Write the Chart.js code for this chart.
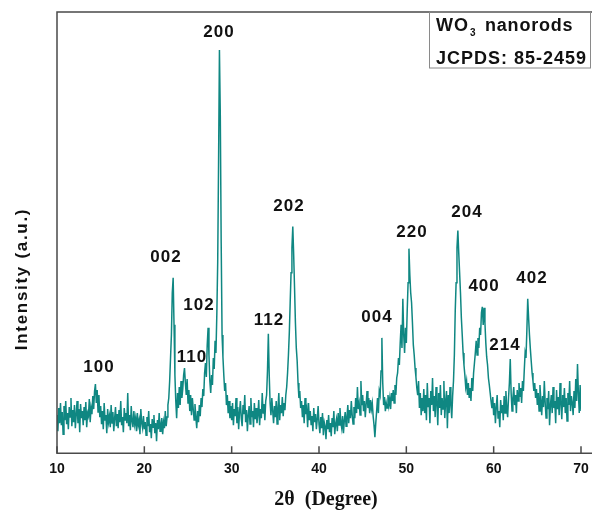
<!DOCTYPE html>
<html>
<head>
<meta charset="utf-8">
<script src="https://cdn.jsdelivr.net/npm/chart.js@4.4.1/dist/chart.umd.min.js"></script>
<style>
  html, body { margin: 0; padding: 0; background: #fff; }
  #wrap { width: 592px; height: 512px; position: relative; }
</style>
</head>
<body>
<div id="wrap"><canvas id="xrd-chart"></canvas></div>
<script>
// scan grid: 2theta from 10 to 70 deg, 0.1 deg step
const startAngle = 10;
const stepAngle = 0.1;

// intensity (a.u.), one row per degree
const intensity = [
  38, 22, 45, 30, 50, 28, 41, 19, 47, 33,          // 10
  52, 29, 40, 24, 46, 36, 55, 27, 43, 31,          // 11
  48, 25, 39, 52, 30, 44, 21, 49, 35, 42,          // 12
  28, 46, 33, 51, 26, 40, 37, 54, 31, 45,          // 13
  39, 57, 44, 62, 69, 50, 63, 41, 58, 36,          // 14
  47, 29, 42, 24, 50, 33, 38, 20, 44, 31,          // 15
  37, 26, 48, 30, 41, 22, 35, 46, 27, 39,          // 16
  25, 43, 31, 52, 28, 36, 21, 45, 33, 40,          // 17
  30, 60, 27, 38, 23, 47, 32, 26, 42, 29,          // 18
  35, 22, 40, 28, 33, 19, 44, 30, 25, 37,          // 19
  24, 31, 18, 36, 27, 42, 21, 29, 15, 34,          // 20
  26, 38, 20, 30, 12, 33, 24, 40, 22, 28,          // 21
  35, 19, 31, 25, 42, 27, 36, 48, 55, 72,          // 22
  95, 118, 160, 175, 128, 78, 52, 35, 60, 45,      // 23
  66, 48, 72, 55, 64, 78, 85, 70, 58, 74,          // 24
  50, 63, 42, 58, 38, 55, 44, 33, 49, 36,          // 25
  25, 42, 31, 48, 37, 55, 46, 64, 57, 80,          // 26
  90, 76, 108, 125, 98, 72, 60, 78, 68, 95,        // 27
  84, 112, 100, 138, 190, 290, 402, 335, 210, 118, // 28
  96, 78, 62, 70, 48, 58, 40, 52, 35, 47,          // 29
  33, 50, 28, 44, 37, 55, 30, 46, 24, 41,          // 30
  52, 35, 27, 48, 39, 58, 31, 43, 22, 38,          // 31
  47, 29, 55, 36, 42, 26, 50, 34, 45, 30,          // 32
  38, 53, 28, 44, 35, 60, 40, 49, 33, 52,          // 33
  58, 82, 119, 78, 50, 38, 55, 42, 30, 47,         // 34
  36, 52, 29, 45, 60, 33, 48, 40, 56, 37,          // 35
  50, 43, 58, 66, 80, 98, 120, 150, 180, 205,      // 36
  226, 198, 165, 130, 105, 92, 70, 55, 62, 45,     // 37
  52, 36, 48, 30, 55, 39, 44, 26, 50, 33,          // 38
  42, 28, 37, 22, 45, 31, 39, 24, 34, 47,          // 39
  29, 20, 36, 25, 40, 18, 31, 27, 14, 33,          // 40
  24, 38, 21, 30, 17, 35, 26, 42, 19, 29,          // 41
  34, 22, 40, 28, 45, 31, 25, 37, 20, 33,          // 42
  41, 27, 36, 48, 30, 43, 35, 52, 38, 29,          // 43
  46, 35, 55, 40, 66, 44, 50, 38, 72, 48,          // 44
  58, 42, 52, 36, 49, 62, 45, 55, 40, 53,          // 45
  44, 50, 37, 28, 16, 30, 42, 55, 40, 62,          // 46
  58, 82, 115, 70, 48, 56, 42, 50, 45, 58,         // 47
  48, 55, 44, 60, 52, 63, 50, 68, 58, 75,          // 48
  80, 95, 88, 110, 128, 105, 154, 118, 100, 125,   // 49
  110, 142, 170, 204, 178, 160, 150, 130, 108, 98, // 50
  85, 76, 65, 58, 72, 45, 60, 38, 55, 42,          // 51
  64, 40, 58, 33, 70, 46, 55, 30, 62, 48,          // 52
  75, 42, 57, 36, 66, 50, 28, 60, 45, 68,          // 53
  38, 55, 44, 72, 35, 52, 62, 25, 58, 40,          // 54
  66, 48, 35, 57, 72, 98, 142, 170, 205, 222,      // 55
  200, 180, 160, 135, 118, 100, 88, 78, 66, 72,    // 56
  58, 70, 55, 65, 52, 75, 62, 80, 90, 100,         // 57
  112, 98, 115, 105, 125, 118, 140, 146, 128, 145, // 58
  130, 110, 96, 88, 75, 68, 60, 52, 45, 56,        // 59
  38, 50, 30, 46, 58, 35, 42, 26, 53, 40,          // 60
  48, 33, 57, 40, 62, 45, 36, 55, 70, 94,          // 61
  60, 42, 55, 66, 48, 58, 40, 63, 52, 70,          // 62
  56, 65, 50, 72, 62, 82, 100, 95, 122, 154,       // 63
  135, 118, 104, 92, 80, 72, 62, 70, 55, 64,       // 64
  48, 60, 42, 68, 53, 38, 57, 46, 72, 50,          // 65
  35, 55, 44, 62, 28, 48, 58, 40, 66, 45,          // 66
  52, 30, 63, 44, 56, 38, 70, 49, 34, 58,          // 67
  46, 65, 40, 55, 32, 60, 48, 72, 42, 57,          // 68
  50, 38, 62, 45, 74, 52, 89, 60, 40, 68,          // 69
  42                                               // 70
];

const xTicks = [10, 20, 30, 40, 50, 60, 70];

// hkl labels and where they sit (2theta, intensity)
const peakLabels = ['100', '002', '110', '102', '200', '112', '202', '004', '220', '204', '400', '214', '402'];
const peakLabelAngle = [14.81, 22.48, 25.46, 26.26, 28.55, 34.28, 36.57, 46.64, 50.65, 56.95, 58.9, 61.3, 64.39];
const peakLabelLevel = [86, 195, 96, 147, 420, 133, 246, 136, 220, 240, 166, 108, 174];

const traceColor = '#0f8782';
const frameColor = '#4a4a4a';

const points = intensity.map((v, i) => ({ x: startAngle + i * stepAngle, y: v }));

// frame, inward ticks, hkl labels, box and axis titles
const decorPlugin = {
    id: 'decor',
    afterDraw(chart) {
        const ctx = chart.ctx;
        const area = chart.chartArea;
        const xs = chart.scales.x;
        const ys = chart.scales.y;

        ctx.save();
        ctx.strokeStyle = frameColor;
        ctx.lineWidth = 1.5;
        ctx.beginPath();
        ctx.moveTo(chart.width, area.bottom);
        ctx.lineTo(area.left, area.bottom);
        ctx.lineTo(area.left, area.top);
        ctx.lineTo(chart.width, area.top);
        ctx.stroke();

        ctx.beginPath();
        xTicks.forEach(t => {
            const px = xs.getPixelForValue(t);
            ctx.moveTo(px, area.bottom);
            ctx.lineTo(px, area.bottom - 7);
        });
        ctx.stroke();

        // hkl labels
        ctx.fillStyle = '#111';
        ctx.font = 'bold 17px "Liberation Sans", Arial, sans-serif';
        ctx.letterSpacing = '1px';
        ctx.textAlign = 'center';
        ctx.textBaseline = 'middle';
        peakLabels.forEach((lab, i) => {
            ctx.fillText(lab, xs.getPixelForValue(peakLabelAngle[i]), ys.getPixelForValue(peakLabelLevel[i]));
        });

        // sample box
        ctx.strokeStyle = '#8a8a8a';
        ctx.lineWidth = 1;
        ctx.strokeRect(429.5, area.top, 161, 56);
        ctx.textAlign = 'left';
        ctx.font = 'bold 18px "Liberation Sans", Arial, sans-serif';
        ctx.fillText('WO', 436, 26);
        const woW = ctx.measureText('WO').width;
        ctx.font = 'bold 10px "Liberation Sans", Arial, sans-serif';
        ctx.letterSpacing = '0px';
        ctx.fillText('3', 436 + woW + 1, 33);
        ctx.font = 'bold 18px "Liberation Sans", Arial, sans-serif';
        ctx.letterSpacing = '0.8px';
        ctx.fillText('nanorods', 485, 26);
        ctx.letterSpacing = '1px';
        ctx.fillText('JCPDS: 85-2459', 436, 59);

        // y title
        ctx.save();
        ctx.translate(22, 279);
        ctx.rotate(-Math.PI / 2);
        ctx.textAlign = 'center';
        ctx.font = 'bold 17px "Liberation Sans", Arial, sans-serif';
        ctx.letterSpacing = '1.7px';
        ctx.fillText('Intensity (a.u.)', 0, 0);
        ctx.restore();

        // x title
        ctx.textAlign = 'center';
        ctx.letterSpacing = '0px';
        ctx.font = 'bold 20px "Liberation Serif", "Times New Roman", serif';
        ctx.fillText('2\u03B8  (Degree)', 326, 500);
        ctx.restore();
    }
};

const ctx = document.getElementById('xrd-chart').getContext('2d');
window.xrdChart = new Chart(ctx, {
    type: 'line',
    data: {
        datasets: [{
            data: points,
            borderColor: traceColor,
            borderWidth: 1.5,
            pointRadius: 0,
            tension: 0,
            fill: false
        }]
    },
    options: {
        responsive: true,
        maintainAspectRatio: false,
        animation: false,
        layout: {
            padding: { left: 57, right: 11, top: 12, bottom: 26 }
        },
        plugins: {
            legend: { display: false },
            tooltip: { enabled: false }
        },
        scales: {
            x: {
                type: 'linear',
                min: 10,
                max: 70,
                grid: { display: false, drawTicks: false },
                border: { display: false },
                ticks: {
                    stepSize: 10,
                    padding: 8,
                    color: '#111',
                    font: { family: '"Liberation Sans", Arial, sans-serif', size: 14, weight: 'bold' }
                },
                // the "70" label may hang into the right margin
                afterFit(scale) {
                    scale.paddingRight = 0;
                }
            },
            y: {
                display: false,
                min: 0,
                max: 440
            }
        }
    },
    plugins: [decorPlugin]
});
</script>
</body>
</html>
